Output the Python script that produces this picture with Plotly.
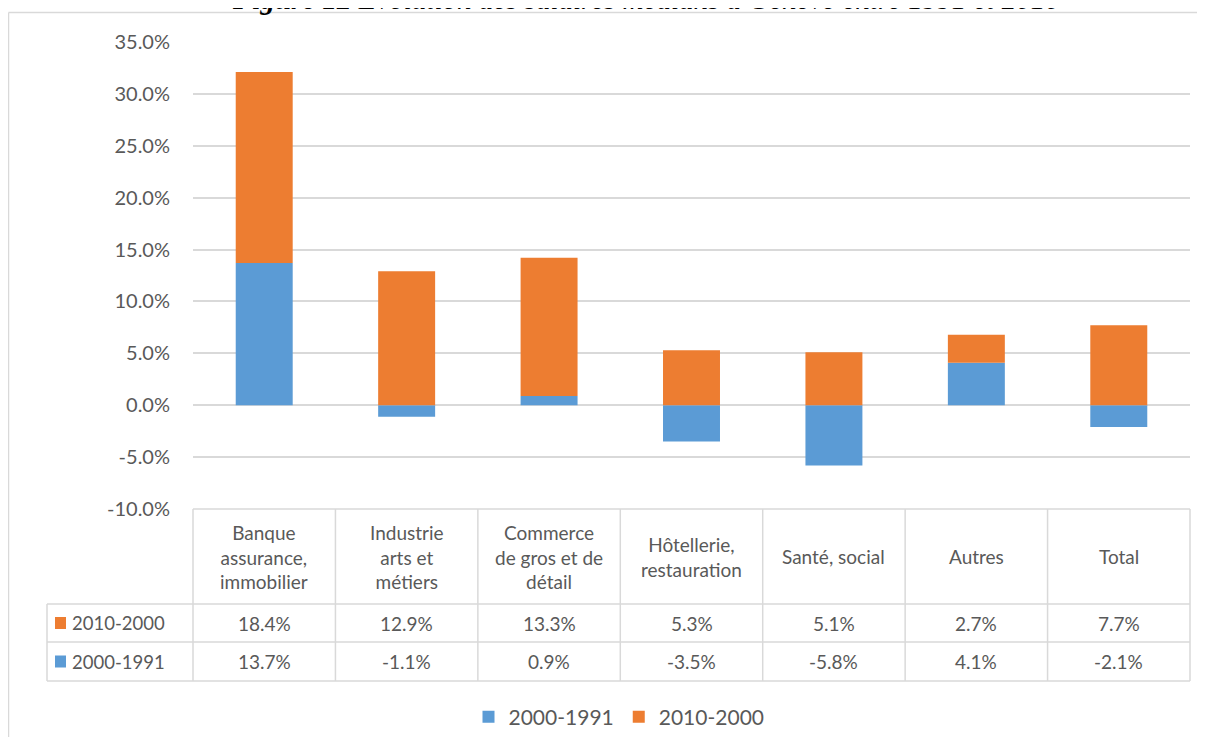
import plotly.graph_objects as go

# ---------------- data ----------------
categories = [
    "Banque<br>assurance,<br>immobilier",
    "Industrie<br>arts et<br>métiers",
    "Commerce<br>de gros et de<br>détail",
    "Hôtellerie,<br>restauration",
    "Santé, social",
    "Autres",
    "Total",
]
series_a_name = "2000-1991"
series_b_name = "2010-2000"
v_2000_1991 = [13.7, -1.1, 0.9, -3.5, -5.8, 4.1, -2.1]
v_2010_2000 = [18.4, 12.9, 13.3, 5.3, 5.1, 2.7, 7.7]
y_ticks = [-10, -5, 0, 5, 10, 15, 20, 25, 30, 35]
title_bold = "Figure 12"
title_rest = " Évolution des salaires médians à Genève entre 1991 et 2010"

# ---------------- style ----------------
BLUE = "#5B9BD5"
ORANGE = "#ED7D31"
TXT = "#595959"
GRID = "#D9D9D9"
FONT = "Lato"
FS = 19

OFF = 8  # page body margin
W, H = 1205 - OFF, 746 - 2 * OFF
# plot area in screen pixels
SX0, SX1, SY0, SY1 = 193, 1190, 42, 509
L, T = SX0 - OFF, SY0 - OFF
R = W - (SX1 - OFF)
B = H - (SY1 - OFF)
PW, PH = W - L - R, H - T - B


def px(x):
    """screen x pixel -> paper"""
    return (x - SX0) / PW


def py(y):
    """screen y pixel -> paper"""
    return (SY1 - y) / PH


fig = go.Figure()
fig.add_trace(go.Bar(x=categories, y=v_2000_1991, name=series_a_name,
                     marker=dict(color=BLUE, line=dict(width=0))))
fig.add_trace(go.Bar(x=categories, y=v_2010_2000, name=series_b_name,
                     marker=dict(color=ORANGE, line=dict(width=0))))

shapes = []
annotations = []
line = dict(color=GRID, width=1.5)

# outer chart border (only left and top edges are visible)
shapes.append(dict(type="line", xref="paper", yref="paper",
                   x0=px(8.5), x1=px(1204), y0=py(12.5), y1=py(12.5),
                   line=dict(color=GRID, width=1.5), layer="below"))
shapes.append(dict(type="line", xref="paper", yref="paper",
                   x0=px(8.5), x1=px(8.5), y0=py(12.5), y1=py(737),
                   line=dict(color=GRID, width=1.5), layer="below"))

# table geometry (screen pixels)
y_top, y_hdr, y_r1, y_r2 = 509, 604, 642, 681
x_lab = 47

shapes.append(dict(type="line", xref="paper", yref="paper",
                   x0=0, x1=1, y0=py(y_top), y1=py(y_top), line=line))
for yy in (y_hdr, y_r1, y_r2):
    shapes.append(dict(type="line", xref="paper", yref="paper",
                       x0=px(x_lab), x1=1, y0=py(yy), y1=py(yy), line=line))
shapes.append(dict(type="line", xref="paper", yref="paper",
                   x0=px(x_lab), x1=px(x_lab), y0=py(y_hdr), y1=py(y_r2), line=line))
shapes.append(dict(type="line", xref="paper", yref="paper",
                   x0=0, x1=0, y0=py(y_top), y1=py(y_r2), line=line))
shapes.append(dict(type="line", xref="paper", yref="paper",
                   x0=1, x1=1, y0=py(y_top), y1=py(y_r2), line=line))
for i in range(len(categories) - 1):
    shapes.append(dict(type="line", xref="x", yref="paper",
                       x0=i + 0.5, x1=i + 0.5, y0=py(y_top), y1=py(y_r2), line=line))

# header text
for c in categories:
    annotations.append(dict(x=c, xref="x", y=py((y_top + y_hdr) / 2), yref="paper",
                            text=c, showarrow=False, align="center",
                            xanchor="center", yanchor="middle",
                            font=dict(family=FONT, size=FS, color=TXT)))

# value rows
rows = [(series_b_name, v_2010_2000, ORANGE, (y_hdr + y_r1) / 2),
        (series_a_name, v_2000_1991, BLUE, (y_r1 + y_r2) / 2)]
for name, vals, col, yc in rows:
    shapes.append(dict(type="rect", xref="paper", yref="paper",
                       x0=px(55), x1=px(66), y0=py(yc - 6), y1=py(yc + 6),
                       fillcolor=col, line=dict(width=0)))
    annotations.append(dict(x=px(70), xref="paper", y=py(yc), yref="paper",
                            text=name, showarrow=False, xanchor="left", yanchor="middle",
                            font=dict(family=FONT, size=18.5, color=TXT)))
    for c, v in zip(categories, vals):
        annotations.append(dict(x=c, xref="x", y=py(yc), yref="paper",
                                text=f"{v:.1f}%", showarrow=False,
                                xanchor="center", yanchor="middle",
                                font=dict(family=FONT, size=FS, color=TXT)))

# title (cut at top as in the source)
annotations.append(dict(x=px(646), xref="paper", y=py(17), yref="paper",
                        text=f"<b><i>{title_bold}</i></b><i>{title_rest}</i>",
                        showarrow=False, xanchor="center", yanchor="bottom",
                        font=dict(family="Liberation Serif", size=29, color="black")))

fig.update_layout(
    width=W, height=H, autosize=False,
    margin=dict(l=L, r=R, t=T, b=B, autoexpand=False),
    paper_bgcolor="white", plot_bgcolor="white",
    barmode="relative", bargap=0.6,
    showlegend=True,
    legend=dict(orientation="h", x=px(619), xanchor="center",
                y=py(717), yanchor="middle", traceorder="normal",
                font=dict(family=FONT, size=21, color=TXT), itemwidth=30),
    shapes=shapes, annotations=annotations,
    font=dict(family=FONT, size=FS, color=TXT),
)
fig.update_xaxes(showticklabels=False, showgrid=False, zeroline=False,
                 showline=False, ticks="", range=[-0.5, len(categories) - 0.5],
                 automargin=False)
fig.update_yaxes(range=[-10, 35], tickvals=y_ticks, ticktext=[f"{t:.1f}%" for t in y_ticks],
                 showgrid=True, gridcolor=GRID, gridwidth=1.5,
                 zeroline=True, zerolinecolor=GRID, zerolinewidth=1.5,
                 showline=False, ticks="", ticklabelstandoff=22,
                 tickfont=dict(family=FONT, size=20, color=TXT), automargin=False)

fig.write_html("out.html")
